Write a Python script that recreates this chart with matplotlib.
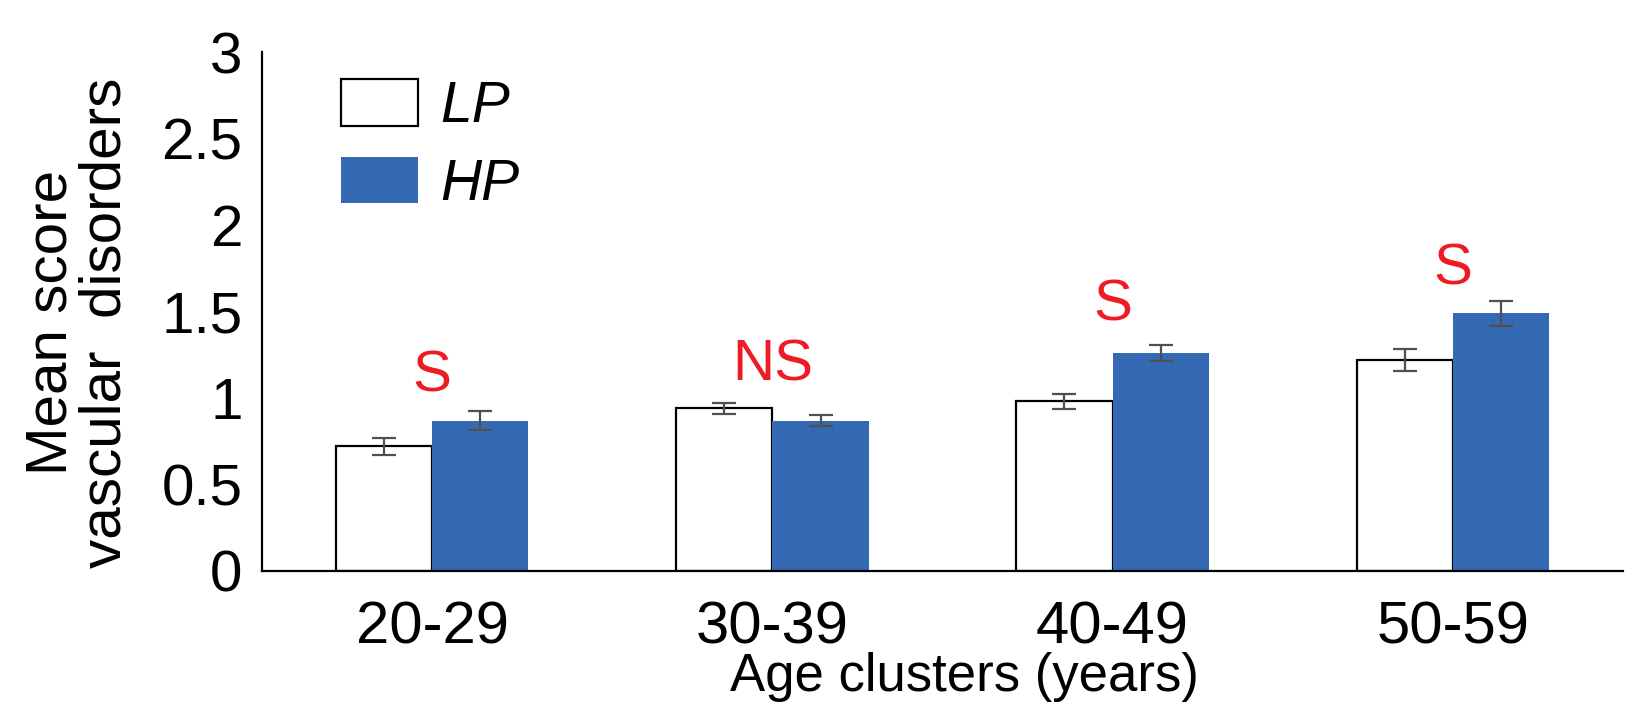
import numpy as np
import matplotlib
matplotlib.use("Agg")
import matplotlib.pyplot as plt

# данные
groups = ['20-29', '30-39', '40-49', '50-59']
lp_mean = [0.72, 0.94, 0.98, 1.22]
lp_err = [0.05, 0.03, 0.044, 0.065]
hp_mean = [0.87, 0.87, 1.26, 1.49]
hp_err = [0.056, 0.03, 0.044, 0.072]
signif = ['S', 'NS', 'S', 'S']
signif_y = [1.04, 1.10, 1.45, 1.655]

plt.rcParams['font.family'] = ['Liberation Sans Narrow', 'Liberation Sans', 'DejaVu Sans']

blue = '#346AB3'
red = '#ED1C24'
errc = '#505050'

fig = plt.figure(figsize=(16.41, 7.03), dpi=100)
ax = fig.add_axes([0.1597, 0.1878, 0.8293, 0.738])

x = np.arange(len(groups))
w = 0.283
ax.bar(x - w / 2, lp_mean, w, color='white', edgecolor='black', linewidth=1.6,
       label='LP', zorder=2)
ax.bar(x + w / 2, hp_mean, w, color=blue, edgecolor='none', label='HP', zorder=2)
ax.errorbar(x - w / 2, lp_mean, yerr=lp_err, fmt='none', ecolor=errc,
            elinewidth=1.6, capsize=8.3, capthick=1.6, zorder=3)
ax.errorbar(x + w / 2, hp_mean, yerr=hp_err, fmt='none', ecolor=errc,
            elinewidth=1.6, capsize=8.3, capthick=1.6, zorder=3)

for xi, s, yi in zip(x, signif, signif_y):
    ax.text(xi, yi, s, color=red, fontsize=42, ha='center', va='baseline')

ax.set_xlim(-0.5, 3.5)
ax.set_ylim(0, 3)
ax.set_yticks([0, 0.5, 1, 1.5, 2, 2.5, 3])
ax.set_yticklabels(['0', '0.5', '1', '1.5', '2', '2.5', '3'])
ax.set_xticks(x)
ax.set_xticklabels(groups)
ax.tick_params(axis='y', length=0, labelsize=42, pad=14)
ax.tick_params(axis='x', length=0, labelsize=43, pad=21)
for side in ['top', 'right']:
    ax.spines[side].set_visible(False)
for side in ['left', 'bottom']:
    ax.spines[side].set_linewidth(1.6)

leg = ax.legend(loc='upper left', bbox_to_anchor=(0.058, 0.948), frameon=False,
                prop={'size': 41, 'style': 'italic'}, handlelength=1.35,
                handleheight=0.88, handletextpad=0.4, labelspacing=0.4,
                borderpad=0, borderaxespad=0)

fig.text(0.048, 0.541, 'Mean score\nvascular  disorders', rotation=90,
         ha='center', va='center', multialignment='center', fontsize=42,
         linespacing=1.0)
fig.text(0.5875, 0.017, 'Age clusters (years)', ha='center', va='baseline',
         fontsize=38)

fig.savefig('out.png', dpi=100)
